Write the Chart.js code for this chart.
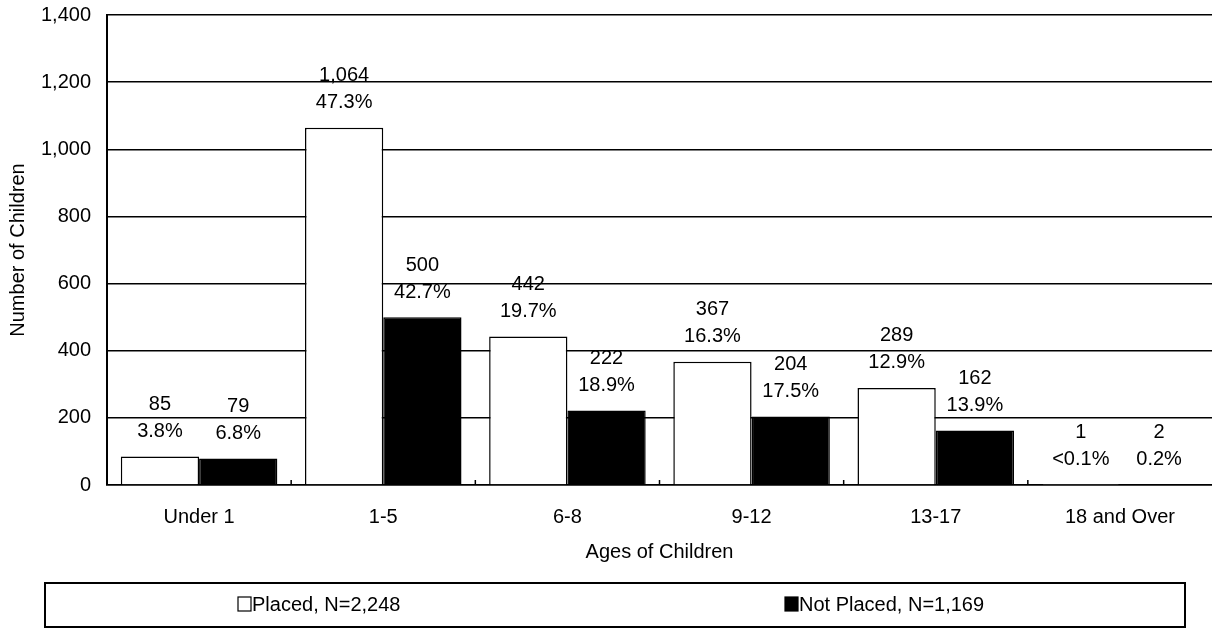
<!DOCTYPE html>
<html>
<head>
<meta charset="utf-8">
<title>Ages of Children</title>
<script src="https://cdn.jsdelivr.net/npm/chart.js@4.4.1/dist/chart.umd.min.js"></script>
<style>
  html, body { margin: 0; padding: 0; background: #fff; }
  #wrap { width: 1212px; height: 629px; }
</style>
</head>
<body>
<div id="wrap"><canvas id="ageChart" width="1212" height="629"></canvas></div>
<script>
// ---- data ----
const ageGroups = ['Under 1', '1-5', '6-8', '9-12', '13-17', '18 and Over'];
const placedCounts = [85, 1064, 442, 367, 289, 1];
const notPlacedCounts = [79, 500, 222, 204, 162, 2];
const placedPct = ['3.8%', '47.3%', '19.7%', '16.3%', '12.9%', '<0.1%'];
const notPlacedPct = ['6.8%', '42.7%', '18.9%', '17.5%', '13.9%', '0.2%'];
const yTicks = [0, 200, 400, 600, 800, 1000, 1200, 1400];
const seriesNames = ['Placed, N=2,248', 'Not Placed, N=1,169'];

const FONT = "'Liberation Sans', Arial, Helvetica, sans-serif";

// ----- labels above bars (count + percent) -----
const barLabels = {
  id: 'barLabels',
  afterDatasetsDraw(chart) {
    const ctx = chart.ctx;
    const pcts = [placedPct, notPlacedPct];
    ctx.save();
    ctx.fillStyle = '#000';
    ctx.font = '20px ' + FONT;
    ctx.textAlign = 'center';
    ctx.textBaseline = 'middle';
    chart.data.datasets.forEach((ds, di) => {
      chart.getDatasetMeta(di).data.forEach((bar, i) => {
        ctx.fillText(ds.data[i].toLocaleString('en-US'), bar.x, bar.y - 52);
        ctx.fillText(pcts[di][i], bar.x, bar.y - 25);
      });
    });
    ctx.restore();
  }
};

// ----- small ticks at category boundaries + boxed legend -----
const extras = {
  id: 'extras',
  afterDraw(chart) {
    const ctx = chart.ctx;
    const xs = chart.scales.x;
    const bottom = chart.chartArea.bottom;
    ctx.save();
    ctx.strokeStyle = '#000';
    ctx.lineWidth = 1.5;
    for (let i = 1; i < ageGroups.length; i++) {
      const bx = (xs.getPixelForTick(i - 1) + xs.getPixelForTick(i)) / 2;
      ctx.beginPath();
      ctx.moveTo(bx, bottom);
      ctx.lineTo(bx, bottom - 5);
      ctx.stroke();
    }

    // legend box
    ctx.lineWidth = 2;
    ctx.strokeRect(45, 583, 1140, 44);
    ctx.font = '20px ' + FONT;
    ctx.textBaseline = 'middle';
    ctx.textAlign = 'left';
    const itemX = [238, 785];
    const cy = 604;
    chart.data.datasets.forEach((ds, di) => {
      const x0 = itemX[di];
      ctx.fillStyle = ds.backgroundColor;
      ctx.fillRect(x0, cy - 7, 13, 14);
      ctx.lineWidth = 1.2;
      ctx.strokeRect(x0, cy - 7, 13, 14);
      ctx.fillStyle = '#000';
      ctx.fillText(ds.label, x0 + 14, cy + 1);
    });
    ctx.restore();
  }
};

new Chart(document.getElementById('ageChart').getContext('2d'), {
  type: 'bar',
  data: {
    labels: ageGroups,
    datasets: [
      {
        label: seriesNames[0],
        data: placedCounts,
        backgroundColor: '#ffffff',
        borderColor: '#000000',
        borderWidth: 1.5,
        barPercentage: 1.0,
        categoryPercentage: 0.85
      },
      {
        label: seriesNames[1],
        data: notPlacedCounts,
        backgroundColor: '#000000',
        borderColor: '#000000',
        borderWidth: 1.5,
        barPercentage: 1.0,
        categoryPercentage: 0.85
      }
    ]
  },
  options: {
    responsive: false,
    animation: false,
    layout: { padding: { top: 15, right: 0, bottom: 0, left: 0 } },
    plugins: {
      legend: { display: false },
      tooltip: { enabled: false }
    },
    scales: {
      x: {
        grid: { display: false, drawTicks: false },
        border: { display: true, color: '#000', width: 1.5 },
        ticks: { color: '#000', font: { family: FONT, size: 20 }, padding: 20 },
        title: {
          display: true,
          text: 'Ages of Children',
          color: '#000',
          font: { family: FONT, size: 20 },
          padding: { top: 0, bottom: 65 }
        },
        afterFit(scale) { scale.height = 144; scale.paddingLeft = 0; scale.paddingRight = 0; }
      },
      y: {
        min: 0,
        max: 1400,
        afterBuildTicks(scale) { scale.ticks = yTicks.map(v => ({ value: v })); },
        grid: { color: '#000', lineWidth: 1.5, drawTicks: false },
        border: { display: true, color: '#000', width: 2 },
        ticks: {
          color: '#000',
          font: { family: FONT, size: 20 },
          padding: 16,
          callback: v => v.toLocaleString('en-US')
        },
        title: {
          display: true,
          text: 'Number of Children',
          color: '#000',
          font: { family: FONT, size: 20 },
          padding: { top: 6, bottom: 0 }
        },
        afterFit(scale) { scale.width = 107; scale.paddingTop = 0; scale.paddingBottom = 0; }
      }
    }
  },
  plugins: [barLabels, extras]
});
</script>
</body>
</html>
